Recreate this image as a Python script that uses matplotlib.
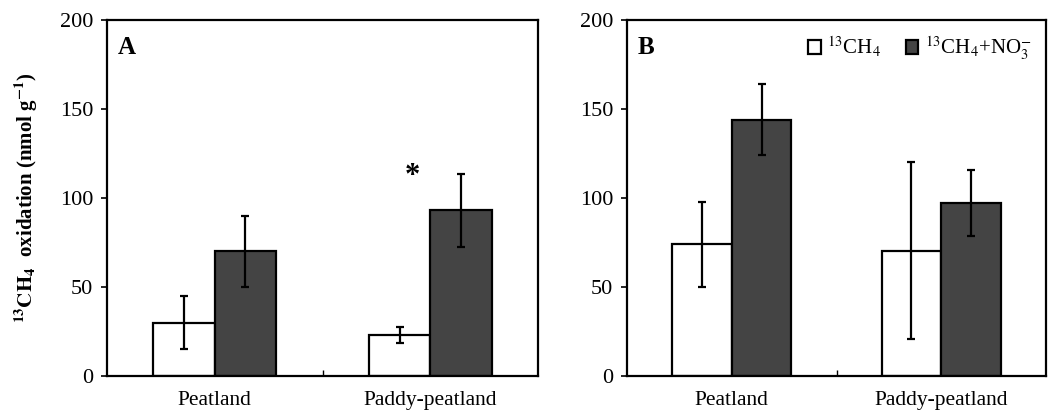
import numpy as np
import matplotlib.pyplot as plt

plt.rcParams['font.family'] = 'Liberation Serif'
plt.rcParams['mathtext.fontset'] = 'stix'

categorias = ['Peatland', 'Paddy-peatland']
# painel A
a_ch4 = [30, 23]
a_ch4_err = [15, 4.5]
a_no3 = [70, 93]
a_no3_err = [20, 20.5]
# painel B
b_ch4 = [74, 70.5]
b_ch4_err = [24, 49.5]
b_no3 = [144, 97]
b_no3_err = [20, 18.5]

cor_escura = '#444444'
largura = 0.285

fig = plt.figure(figsize=(10.51, 4.12), dpi=100)
ax1 = fig.add_axes([107/1051, 36/412, 431/1051, 356/412])
ax2 = fig.add_axes([627/1051, 36/412, 419/1051, 356/412])

x = np.arange(len(categorias))
for ax, v1, e1, v2, e2, letra in [(ax1, a_ch4, a_ch4_err, a_no3, a_no3_err, 'A'),
                                  (ax2, b_ch4, b_ch4_err, b_no3, b_no3_err, 'B')]:
    ax.bar(x - largura/2, v1, largura, color='white', edgecolor='black', linewidth=1.6,
           label=r'$^{13}$CH$_4$')
    ax.bar(x + largura/2, v2, largura, color=cor_escura, edgecolor='black', linewidth=1.6,
           label=r'$^{13}$CH$_4$+NO$_3^{-}$')
    ax.errorbar(x - largura/2, v1, yerr=e1, fmt='none', ecolor='black', elinewidth=1.6,
                capsize=3, capthick=1.6)
    ax.errorbar(x + largura/2, v2, yerr=e2, fmt='none', ecolor='black', elinewidth=1.6,
                capsize=3, capthick=1.6)
    ax.set_xlim(-0.5, 1.5)
    ax.set_ylim(0, 200)
    ax.set_yticks([0, 50, 100, 150, 200])
    ax.set_xticks([0.5])
    ax.set_xticklabels([''])
    ax.tick_params(axis='x', direction='in', length=4, width=1)
    ax.tick_params(axis='y', direction='out', length=4, width=1.2, labelsize=16, pad=6)
    for s in ax.spines.values():
        s.set_linewidth(1.6)
    for xi, nome in zip(x, categorias):
        ax.text(xi, -8.5, nome, ha='center', va='top', fontsize=15.5,
                transform=ax.transData)
    ax.text(0.025, 0.955, letra, transform=ax.transAxes, fontsize=18,
            fontweight='bold', va='top', ha='left')

ax1.text(0.915, 112, '*', fontsize=22, fontweight='bold',
         ha='center', va='center')
ax1.set_ylabel(r'$\mathbf{^{13}CH_4}$  oxidation (nmol g$\mathbf{^{-1}}$)', fontsize=15,
               fontweight='bold', labelpad=14)
ax2.legend(loc='upper right', ncol=2, frameon=False, fontsize=15,
           handlelength=0.6, handleheight=0.6, columnspacing=1.2,
           handletextpad=0.3, borderaxespad=0.3)

plt.savefig('out.png', dpi=100)
